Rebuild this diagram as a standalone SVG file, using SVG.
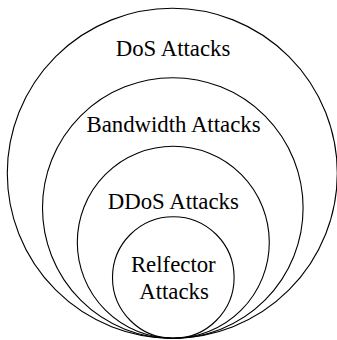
<svg xmlns="http://www.w3.org/2000/svg" width="337" height="340" viewBox="0 0 337 340">
<style>
.c{fill:none;stroke:#000;stroke-width:1.1}
.t{font-size:22.8px;fill:#000;text-anchor:middle}
</style>
<rect width="337" height="340" fill="#fff"/>
<g id="dos">
<circle class="c" cx="172.3" cy="173.3" r="165"/>
<text class="t" font-family="'Liberation Serif', 'Times New Roman', 'DejaVu Serif', serif" x="173" y="56.3">DoS Attacks</text>
</g>
<g id="bandwidth">
<circle class="c" cx="172.8" cy="208" r="130.3"/>
<text class="t" font-family="'Liberation Serif', 'Times New Roman', 'DejaVu Serif', serif" x="173.5" y="131.7">Bandwidth Attacks</text>
</g>
<g id="ddos">
<circle class="c" cx="173.3" cy="242.3" r="96"/>
<text class="t" font-family="'Liberation Serif', 'Times New Roman', 'DejaVu Serif', serif" x="173.3" y="208.5">DDoS Attacks</text>
</g>
<g id="reflector">
<circle class="c" cx="173.3" cy="277.5" r="60.8"/>
<text class="t" font-family="'Liberation Serif', 'Times New Roman', 'DejaVu Serif', serif" x="173.3" y="271.7">Relfector</text>
<text class="t" font-family="'Liberation Serif', 'Times New Roman', 'DejaVu Serif', serif" x="174" y="299">Attacks</text>
</g>
<g id="connectors"/>
</svg>
